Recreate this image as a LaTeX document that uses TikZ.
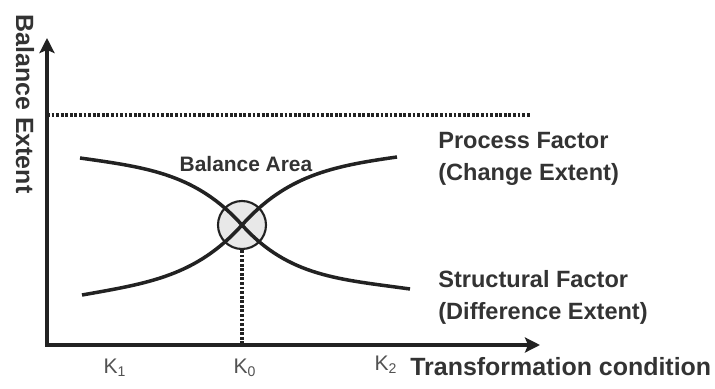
\documentclass[tikz,border=0pt]{standalone}
\usepackage{fontspec}
\setmainfont{Liberation Sans}
\usetikzlibrary{arrows.meta}
\definecolor{ink}{HTML}{222222}
\definecolor{txt}{HTML}{333333}

\begin{document}
\begin{tikzpicture}[
  axis/.style={line width=2.2pt,draw=ink,{Stealth[length=3mm,width=3mm,inset=0.6mm]}-{Stealth[length=3mm,width=3mm,inset=0.6mm]}},
  curve/.style={line width=2pt,draw=ink},
  guide/.style={line width=2pt,draw=ink,dash pattern=on 1.6pt off 1pt},
  lbl/.style={text=txt,font=\bfseries\fontsize{13.4}{18}\selectfont,inner sep=0pt},
  tick/.style={text=txt!85,font=\fontsize{12}{14}\selectfont,inner sep=0pt}]
\useasboundingbox (-0.94,-0.86) rectangle (13.36,6.90);
% axes
\coordinate (O) at (0,0);
\coordinate (ytip) at (0,6.14);
\coordinate (xtip) at (9.86,0);
\draw[axis] (ytip) -- (O) -- (xtip);
\coordinate (top0) at (0,4.60);
\coordinate (top1) at (9.66,4.60);
\draw[guide] (top0) -- (top1);
% balance point
\node[circle,draw=ink,line width=1.2pt,fill=gray!18,minimum size=0.96cm,inner sep=0pt] (bal) at (3.90,2.40) {};
\draw[guide] (bal.south) -- (bal.south |- O);
% the two factors
\coordinate (s0) at (0.66,3.74);
\coordinate (s1) at (7.26,1.12);
\coordinate (p0) at (0.70,1.00);
\coordinate (p1) at (7.00,3.76);
\draw[curve] (s0) to[out=-8,in=132] (bal.center) to[out=-48,in=172] (s1);
\draw[curve] (p0) to[out=10,in=-132] (bal.center) to[out=48,in=-172] (p1);
% labels
\node[lbl,font=\bfseries\fontsize{11.9}{14}\selectfont] (area) at (3.98,3.62) {Balance Area};
\node[lbl,anchor=west,align=left] (proc) at (7.82,3.72) {Process Factor\\(Change Extent)};
\node[lbl,anchor=west,align=left] (struc) at (7.82,0.95) {Structural Factor\\(Difference Extent)};
\node[lbl,font=\bfseries\fontsize{14.2}{16}\selectfont,rotate=-90] (yname) at (-0.44,4.82) {Balance Extent};
\node[lbl,font=\bfseries\fontsize{14.2}{16}\selectfont,anchor=base west] (xname) at (7.26,-0.60) {Transformation condition};
\node[tick,anchor=base] (k1) at (1.36,-0.56) {K\textsubscript{1}};
\node[tick,anchor=base] (k0) at (3.96,-0.56) {K\textsubscript{0}};
\node[tick,anchor=base] (k2) at (6.78,-0.50) {K\textsubscript{2}};
\end{tikzpicture}
\end{document}
